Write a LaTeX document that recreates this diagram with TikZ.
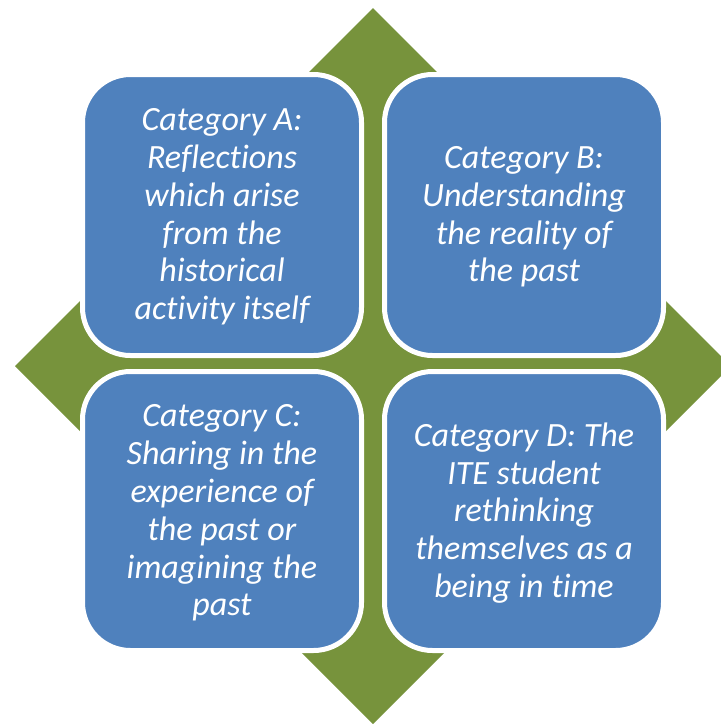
\documentclass[tikz,border=0pt]{standalone}
\usepackage{fontspec}
\setmainfont{Carlito}[Ligatures={NoCommon}]
\definecolor{boxblue}{HTML}{4F81BD}
\definecolor{diagreen}{HTML}{77933C}
\tikzset{
  catbox/.style={fill=boxblue, draw=white, line width=5pt, rounded corners=48pt},
  cattext/.style={text=white, align=center, font=\fontsize{34}{37.8}\selectfont\itshape, inner sep=0pt}
}
\begin{document}
\begin{tikzpicture}[x=1pt,y=-1pt]
\useasboundingbox (0,0) rectangle (721,724);
\clip (0,0) rectangle (721,724);
\fill[white] (0,0) rectangle (721,724);
\fill[diagreen] (373,8) -- (731,366) -- (373,724) -- (15,366) -- cycle;
\draw[catbox] (82.5,74.5) rectangle (361.5,355.5);
\draw[catbox] (384.5,74.5) rectangle (663.5,355.5);
\draw[catbox] (82.5,371.5) rectangle (361.5,650.5);
\draw[catbox] (384.5,371.5) rectangle (663.5,650.5);
\node[cattext] (a) at (222,217) {Category A:\\Reflections\\which arise\\from the\\historical\\activity itself};
\node[cattext] (b) at (524,217) {Category B:\\Understanding\\the reality of\\the past};
\node[cattext] (c) at (222,513) {Category C:\\Sharing in the\\experience of\\the past or\\imagining the\\past};
\node[cattext] (d) at (524,513) {Category D: The\\ITE student\\rethinking\\themselves as a\\being in time};
\end{tikzpicture}
\end{document}
